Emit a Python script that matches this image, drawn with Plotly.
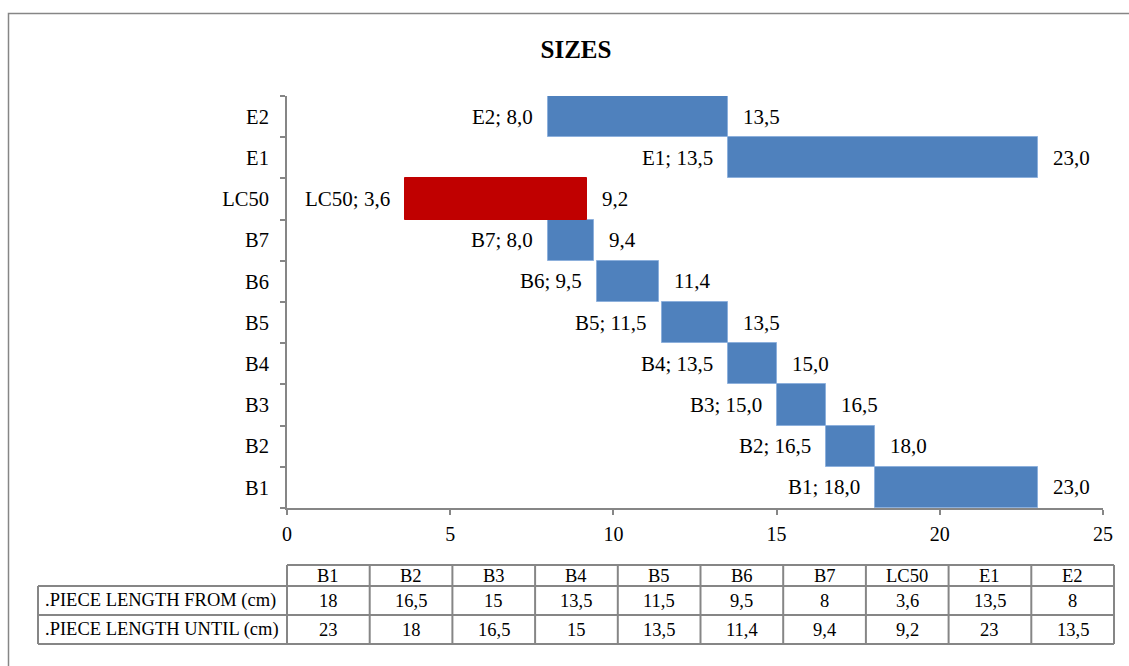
import plotly.graph_objects as go

# Piece length ranges per size class (cm), bottom-to-top order on the chart
categories = ["B1", "B2", "B3", "B4", "B5", "B6", "B7", "LC50", "E1", "E2"]
length_from = [18, 16.5, 15, 13.5, 11.5, 9.5, 8, 3.6, 13.5, 8]
length_until = [23, 18, 16.5, 15, 13.5, 11.4, 9.4, 9.2, 23, 13.5]
highlight = "LC50"

row_labels = [".PIECE LENGTH FROM (cm)", ".PIECE LENGTH UNTIL (cm)"]
x_ticks = [0, 5, 10, 15, 20, 25]

W, H = 1129, 666
FONT = "Liberation Serif"
GREY = "#868686"
BLUE = "#4F81BD"
RED = "#C00000"


def px(x):
    return x / W


def py(y):
    return 1 - y / H


def fmt1(v):
    return f"{v:.1f}".replace(".", ",")


def fmtg(v):
    return f"{v:g}".replace(".", ",")


colors = [RED if c == highlight else BLUE for c in categories]
line_colors = [RED if c == highlight else "#8DB0DC" for c in categories]

fig = go.Figure()
fig.add_trace(go.Bar(
    y=categories,
    x=[u - f for f, u in zip(length_from, length_until)],
    base=length_from,
    orientation="h",
    marker=dict(color=colors, line=dict(color=line_colors, width=1)),
    hoverinfo="skip",
    showlegend=False,
))

label_font = dict(family=FONT, size=21, color="black")
annotations = []
for cat, f, u in zip(categories, length_from, length_until):
    annotations.append(dict(
        x=f, y=cat, xref="x", yref="y", text=f"{cat}; {fmt1(f)}",
        showarrow=False, xanchor="right", yanchor="middle", xshift=-13,
        font=label_font,
    ))
    annotations.append(dict(
        x=u, y=cat, xref="x", yref="y", text=fmt1(u),
        showarrow=False, xanchor="left", yanchor="middle", xshift=13,
        font=label_font,
    ))

# Data table under the chart
shapes = []
tbl_left, tbl_col0, tbl_right = 38, 287, 1114
row_y = [565, 586, 615, 644]
col_w = (tbl_right - tbl_col0) / len(categories)
col_x = [tbl_col0 + k * col_w for k in range(len(categories) + 1)]
tline = dict(color=GREY, width=2)

shapes.append(dict(type="line", xref="paper", yref="paper",
                   x0=px(tbl_col0), x1=px(tbl_right), y0=py(row_y[0]), y1=py(row_y[0]), line=tline))
for yy in row_y[1:]:
    shapes.append(dict(type="line", xref="paper", yref="paper",
                       x0=px(tbl_left), x1=px(tbl_right), y0=py(yy), y1=py(yy), line=tline))
shapes.append(dict(type="line", xref="paper", yref="paper",
                   x0=px(tbl_left), x1=px(tbl_left), y0=py(row_y[1]), y1=py(row_y[3]), line=tline))
for xx in col_x:
    shapes.append(dict(type="line", xref="paper", yref="paper",
                       x0=px(xx), x1=px(xx), y0=py(row_y[0]), y1=py(row_y[3]), line=tline))

tfont = dict(family=FONT, size=18.5, color="black")
for k, cat in enumerate(categories):
    cx = (col_x[k] + col_x[k + 1]) / 2
    for r, txt in enumerate([cat, fmtg(length_from[k]), fmtg(length_until[k])]):
        cy = (row_y[r] + row_y[r + 1]) / 2
        annotations.append(dict(x=px(cx), y=py(cy), xref="paper", yref="paper", text=txt,
                                showarrow=False, xanchor="center", yanchor="middle", font=tfont))
for r, lab in enumerate(row_labels, start=1):
    cy = (row_y[r] + row_y[r + 1]) / 2
    annotations.append(dict(x=px(tbl_left + 5), y=py(cy), xref="paper", yref="paper", text=lab,
                            showarrow=False, xanchor="left", yanchor="middle", font=tfont))

# Outer chart-area frame
shapes.append(dict(type="rect", xref="paper", yref="paper",
                   x0=px(8.5), x1=1.05, y0=-0.05, y1=py(13.5),
                   line=dict(color=GREY, width=1.5), fillcolor="rgba(0,0,0,0)", layer="below"))

fig.update_layout(
    width=W, height=H,
    margin=dict(l=0, r=0, t=0, b=0, autoexpand=False),
    paper_bgcolor="white", plot_bgcolor="white",
    bargap=0,
    title=dict(text="<b>SIZES</b>", x=px(576), xanchor="center", y=py(49), yanchor="middle",
               font=dict(family=FONT, size=25, color="black")),
    xaxis=dict(
        domain=[px(287), px(1103)], range=[0, 25], tickvals=x_ticks,
        ticktext=[str(t) for t in x_ticks], automargin=False,
        showgrid=False, zeroline=False, showline=True, linecolor=GREY, linewidth=2,
        ticks="outside", ticklen=5, tickcolor=GREY, tickwidth=2,
        ticklabelstandoff=2,
        tickfont=dict(family=FONT, size=20, color="black"),
    ),
    yaxis=dict(
        domain=[py(508), py(96)], categoryorder="array", categoryarray=categories,
        automargin=False,
        showgrid=False, zeroline=False, showline=True, linecolor=GREY, linewidth=2,
        ticks="outside", ticklen=5, tickcolor=GREY, tickwidth=2, tickson="boundaries",
        ticklabelstandoff=12,
        tickfont=dict(family=FONT, size=20.5, color="black"),
    ),
    annotations=annotations,
    shapes=shapes,
)

fig.write_html("out.html")
